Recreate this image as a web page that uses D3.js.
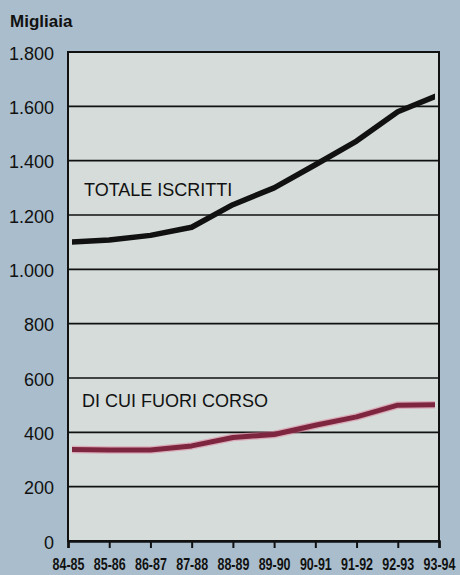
<!DOCTYPE html>
<html><head><meta charset="utf-8">
<script src="https://cdn.jsdelivr.net/npm/d3@7/dist/d3.min.js"></script>
<style>
html,body{margin:0;padding:0;background:#a9bdcc;}
svg{display:block;}
</style></head>
<body>
<script>
const categories = ["84-85","85-86","86-87","87-88","88-89","89-90","90-91","91-92","92-93","93-94"];
const totaleIscritti = [1100,1108,1125,1155,1238,1300,1385,1472,1580,1642];
const fuoriCorso = [337,335,335,350,381,392,426,457,500,502];
const yTicks = [0,200,400,600,800,1000,1200,1400,1600,1800];
const yTickLabels = ["0","200","400","600","800","1.000","1.200","1.400","1.600","1.800"];

const W = 460, H = 575;
const m = {left:68, right:21, top:52, bottom:34};
const svg = d3.select("body").append("svg").attr("width",W).attr("height",H);

svg.append("rect").attr("width",W).attr("height",H).attr("fill","#a9bdcc");

const x = d3.scalePoint().domain(categories).range([m.left, W - m.right]);
const y = d3.scaleLinear().domain([0,1800]).range([H - m.bottom, m.top]);

svg.append("rect")
  .attr("x", m.left).attr("y", m.top)
  .attr("width", W - m.left - m.right).attr("height", H - m.top - m.bottom)
  .attr("fill","#d5dcd9");

svg.append("g").selectAll("line").data(yTicks).join("line")
  .attr("x1", m.left).attr("x2", W - m.right)
  .attr("y1", d => y(d)).attr("y2", d => y(d))
  .attr("stroke","#111").attr("stroke-width",1.6);

svg.append("g").selectAll("text").data(yTicks).join("text")
  .attr("x", 54).attr("y", d => y(d) + 3)
  .attr("text-anchor","end").attr("dominant-baseline","middle")
  .attr("font-family","Liberation Sans, Arial, sans-serif")
  .attr("font-size",18).attr("fill","#111")
  .text((d,i) => yTickLabels[i]);

svg.append("text").attr("x",10).attr("y",27)
  .attr("font-family","Liberation Sans, Arial, sans-serif")
  .attr("font-weight","bold").attr("font-size",17).attr("fill","#111")
  .text("Migliaia");

svg.append("clipPath").attr("id","clip").append("rect")
  .attr("x", m.left + 4).attr("y", m.top)
  .attr("width", W - m.left - m.right - 8).attr("height", H - m.top - m.bottom);

const line = d3.line().x((d,i) => x(categories[i])).y(d => y(d)).curve(d3.curveLinear);

const g = svg.append("g").attr("clip-path","url(#clip)");
g.append("path").datum(fuoriCorso).attr("d", line)
  .attr("fill","none").attr("stroke","#e07a98").attr("stroke-width",7.5)
  .attr("stroke-linejoin","round").attr("opacity",0.5);
g.append("path").datum(fuoriCorso).attr("d", line)
  .attr("fill","none").attr("stroke","#7e2640").attr("stroke-width",5)
  .attr("stroke-linejoin","round");
g.append("path").datum(totaleIscritti).attr("d", line)
  .attr("fill","none").attr("stroke","#111").attr("stroke-width",5.5)
  .attr("stroke-linejoin","round");

svg.append("rect")
  .attr("x", m.left).attr("y", m.top)
  .attr("width", W - m.left - m.right).attr("height", H - m.top - m.bottom)
  .attr("fill","none").attr("stroke","#111").attr("stroke-width",2);

const xAxis = svg.append("g").attr("transform",`translate(0,${H - m.bottom})`)
  .call(d3.axisBottom(x).tickSize(7).tickPadding(11));
xAxis.select(".domain").attr("stroke","#111").attr("stroke-width",2.5);
xAxis.selectAll(".tick line").attr("stroke","#111").attr("stroke-width",2);
xAxis.selectAll(".tick text")
  .attr("font-family","Liberation Sans, Arial, sans-serif")
  .attr("font-weight","bold").attr("font-size",16).attr("fill","#111")
  .attr("transform","scale(0.78,1)");

svg.append("text").attr("x",84).attr("y",196)
  .attr("font-family","Liberation Sans, Arial, sans-serif")
  .attr("font-size",18).attr("fill","#111")
  .text("TOTALE ISCRITTI");
svg.append("text").attr("x",82).attr("y",407)
  .attr("font-family","Liberation Sans, Arial, sans-serif")
  .attr("font-size",18).attr("fill","#111")
  .text("DI CUI FUORI CORSO");
</script>
</body></html>
